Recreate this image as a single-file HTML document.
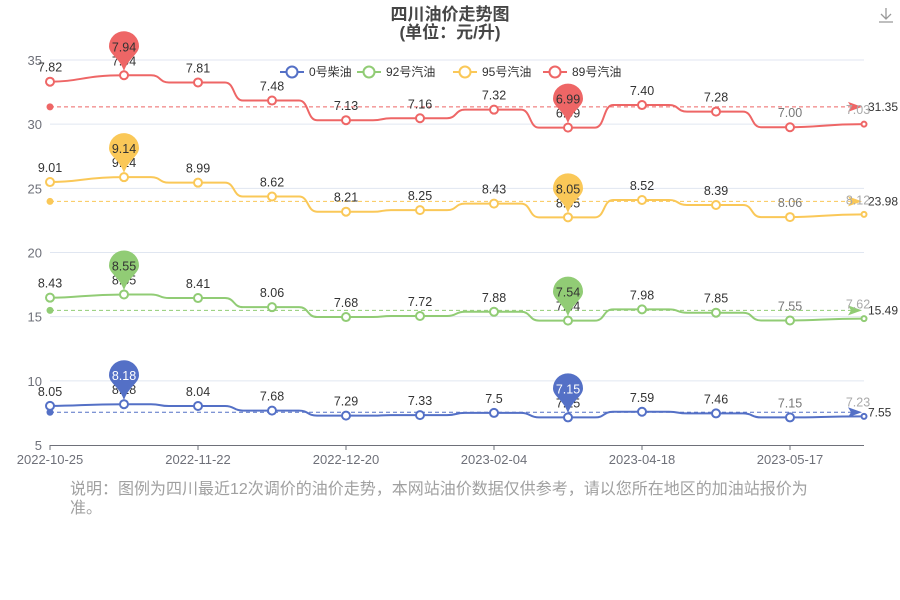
<!DOCTYPE html>
<html><head><meta charset="utf-8"><style>
body{margin:0;background:#fff;width:900px;height:600px;overflow:hidden;font-family:"Liberation Sans","Noto Sans CJK SC",sans-serif}
.note{position:absolute;left:70px;top:480px;width:750px;font-size:16px;line-height:19px;color:#a0a0a0}
</style></head><body>
<svg id="s" width="900" height="600" style="position:absolute;left:0;top:0" font-family="Liberation Sans, Noto Sans CJK SC, sans-serif"></svg>
<div class="note">说明：图例为四川最近12次调价的油价走势，本网站油价数据仅供参考，请以您所在地区的加油站报价为准。</div>
<script>
(function(){
const s=document.getElementById('s');let h='';
const Y=v=>445-(v-5)*12.8333, X=i=>50+74*i;
h+='<text x="450" y="20" text-anchor="middle" font-size="17" font-weight="bold" fill="#464646">四川油价走势图</text>';
h+='<text x="450" y="38" text-anchor="middle" font-size="17" font-weight="bold" fill="#464646">(单位：元/升)</text>';
h+='<g stroke="#999" fill="none" stroke-width="1.3"><path d="M886 8v11M881 14l5 5 5-5M879 22h14"/></g>';
for(let v=5;v<=35;v+=5){const y=Y(v);if(v>5)h+=`<line x1="50" x2="864" y1="${y}" y2="${y}" stroke="#e0e6f1"/>`;h+=`<text x="42" y="${y+5}" text-anchor="end" font-size="13" fill="#6e7079">${v}</text>`}
h+=`<line x1="50" x2="864" y1="445.5" y2="445.5" stroke="#6e7079"/>`;
const xl=['2022-10-25','2022-11-22','2022-12-20','2023-02-04','2023-04-18','2023-05-17'];
xl.forEach((t,k)=>{const x=50+148*k;h+=`<line x1="${x}" x2="${x}" y1="445" y2="450" stroke="#6e7079"/><text x="${x}" y="464" text-anchor="middle" font-size="13" fill="#6e7079">${t}</text>`});
const D=[[8.05,8.18,8.04,7.68,7.29,7.33,7.5,7.15,7.59,7.46,7.15,7.23],
[8.43,8.55,8.41,8.06,7.68,7.72,7.88,7.54,7.98,7.85,7.55,7.62],
[9.01,9.14,8.99,8.62,8.21,8.25,8.43,8.05,8.52,8.39,8.06,8.12],
[7.82,7.94,7.81,7.48,7.13,7.16,7.32,6.99,7.40,7.28,7.00,7.03]];
const C=['#5470c6','#91cc75','#fac858','#ee6666'],N=['0号柴油','92号汽油','95号汽油','89号汽油'],AV=[7.55,15.49,23.98,31.35];
let acc=new Array(12).fill(0),tp='';
D.forEach((d,k)=>{const c=C[k];const st=d.map((v,i)=>acc[i]+=v);
 let p=`M${X(0)} ${Y(st[0])}`;for(let i=1;i<12;i++){const x0=X(i-1),x1=X(i),y0=Y(st[i-1]),y1=Y(st[i]);
  if(i==1||i==11){p+=` C${x0+30} ${y0} ${x1-40} ${y1} ${x1} ${y1}`}
  else{const xm=(x0+x1)/2;p+=` L${xm-10} ${y0} C${xm} ${y0} ${xm-2} ${y1} ${xm+8} ${y1} L${x1} ${y1}`}}
 h+=`<path d="${p}" stroke="${c}" stroke-width="2" fill="none"/>`;
 const ay=Y(AV[k]);h+=`<line x1="50" x2="856" y1="${ay}" y2="${ay}" stroke="${c}" stroke-dasharray="4,3"/><circle cx="50" cy="${ay}" r="3.5" fill="${c}"/><path d="M848 ${ay-5}L862 ${ay}L848 ${ay+5}L851 ${ay}Z" fill="${c}"/>`;
 tp+=`<text x="868" y="${ay+4}" font-size="12" fill="#333">${AV[k].toFixed(2)}</text>`;
 st.forEach((v,i)=>{const x=X(i),y=Y(v);h+=`<circle cx="${x}" cy="${y}" r="${i==11?2.5:4}" fill="#fff" stroke="${c}" stroke-width="2"/>`;
  const col=i==11?'#aaa':(i==10?'#777':'#333');tp+=`<text x="${i==11?858:x}" y="${y-10}" text-anchor="middle" font-size="12.5" fill="${col}">${d[i].toFixed(d[i]==7.5?1:2)}</text>`});
 [1,7].forEach(i=>{const x=X(i),y=Y(st[i]),cy=y-29;tp+=`<path d="M${x} ${y-4} C${x-4} ${cy+12} ${x-15} ${cy+8} ${x-15} ${cy} A15 15 0 1 1 ${x+15} ${cy} C${x+15} ${cy+8} ${x+4} ${cy+12} ${x} ${y-4}Z" fill="${c}"/><text x="${x}" y="${cy+5}" text-anchor="middle" font-size="12.5" fill="${k==0?'#fff':'#333'}">${d[i].toFixed(2)}</text>`});
});
h+=tp;
const LX=[280,357,453,543];
N.forEach((n,k)=>{const x=LX[k];h+=`<line x1="${x}" x2="${x+24}" y1="72" y2="72" stroke="${C[k]}" stroke-width="2"/><circle cx="${x+12}" cy="72" r="5.5" fill="#fff" stroke="${C[k]}" stroke-width="2"/><text x="${x+29}" y="76" font-size="12" fill="#333">${n}</text>`});
s.innerHTML=h;
})();
</script>
</body></html>
